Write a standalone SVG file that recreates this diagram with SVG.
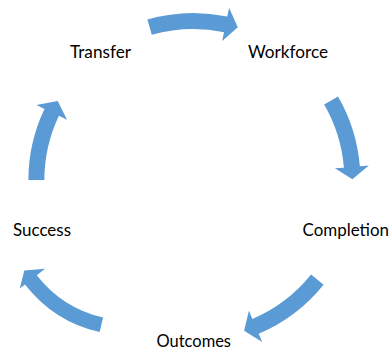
<svg xmlns="http://www.w3.org/2000/svg" width="390" height="349" viewBox="0 0 390 349">
  <style>
    .label { font-family: Lato, "Open Sans", "Liberation Sans", sans-serif; font-size: 17px; fill: #000000; }
    .arrow { fill: #5B9BD5; stroke: none; }
  </style>
  <rect x="0" y="0" width="390" height="349" fill="#FFFFFF"/>

  <!-- curved block arrows running clockwise round the cycle -->
  <g id="connectors">
    <path id="arrow-transfer-workforce" class="arrow"
      d="M147.37,19.47 A167,167 0 0 1 227.27,16.47 L229.09,7.66 L237.76,27.31 L222.2,40.95 L224.02,32.14 A151,151 0 0 0 151.78,34.85 Z"/>
    <path id="arrow-workforce-completion" class="arrow"
      d="M338.03,96.5 A167,167 0 0 1 359.84,166.32 L368.81,165.58 L352.4,179.17 L334.92,168.36 L343.89,167.63 A151,151 0 0 0 324.17,104.5 Z"/>
    <path id="arrow-completion-outcomes" class="arrow"
      d="M323.56,284.64 A167,167 0 0 1 258.65,333.72 L262.17,342.01 L244.11,330.7 L248.88,310.71 L252.4,319.0 A151,151 0 0 0 311.09,274.62 Z"/>
    <path id="arrow-outcomes-success" class="arrow"
      d="M99.69,332.1 A132.5,132.5 0 0 1 24.95,284.39 L19.82,288.39 L24.31,270.53 L45.07,268.73 L36.78,275.18 A117.5,117.5 0 0 0 103.07,317.49 Z"/>
    <path id="arrow-success-transfer" class="arrow"
      d="M28.4,180 A165,165 0 0 1 44.47,108.97 L36.35,105.09 L57.71,101.03 L67.04,119.73 L58.91,115.85 A149,149 0 0 0 44.4,180 Z"/>
  </g>

  <!-- cycle stages -->
  <g id="node-transfer">
    <text class="label" x="70" y="58" textLength="61" lengthAdjust="spacingAndGlyphs">Transfer</text>
  </g>
  <g id="node-workforce">
    <text class="label" x="248" y="58" textLength="80" lengthAdjust="spacingAndGlyphs">Workforce</text>
  </g>
  <g id="node-completion">
    <text class="label" x="302.5" y="235.7" textLength="86.5" lengthAdjust="spacingAndGlyphs">Completion</text>
  </g>
  <g id="node-outcomes">
    <text class="label" x="156.5" y="346.5" textLength="74.5" lengthAdjust="spacingAndGlyphs">Outcomes</text>
  </g>
  <g id="node-success">
    <text class="label" x="13" y="235.7" textLength="58" lengthAdjust="spacingAndGlyphs">Success</text>
  </g>
</svg>
